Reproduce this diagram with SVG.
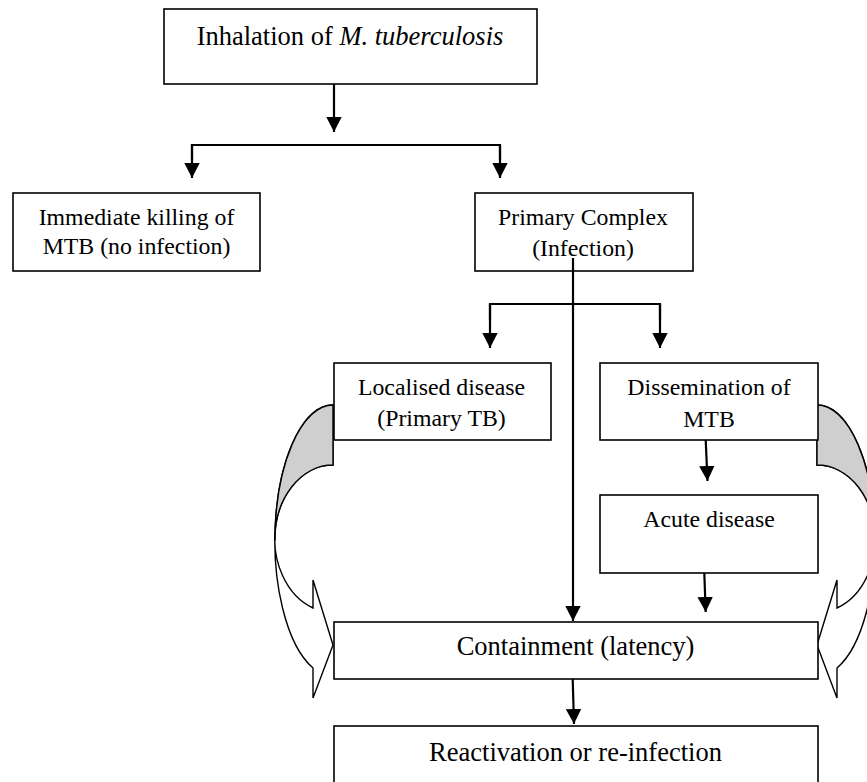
<svg xmlns="http://www.w3.org/2000/svg" width="867" height="782" viewBox="0 0 867 782">
<style>
.box{fill:#fff;stroke:#000;stroke-width:1.6}
.t{font-family:"Liberation Serif","Times New Roman",serif;font-size:23.8px;fill:#000;text-anchor:middle}
.tl{font-size:26.5px}
.c{fill:none;stroke:#000;stroke-width:2.2}
.ca{fill:none;stroke:#000;stroke-width:2.2;marker-end:url(#ah)}
.cv{fill:#fff;stroke:#000;stroke-width:1.4;stroke-linejoin:miter}
.sh{fill:#cfcfcf;stroke:#000;stroke-width:1.4}
</style>
<defs>
<marker id="ah" markerUnits="userSpaceOnUse" markerWidth="16" markerHeight="16" viewBox="0 0 16 16" refX="15" refY="8" orient="auto">
<path d="M0,0.3 L15,8 L0,15.7 Z" fill="#000"/>
</marker>
</defs>
<rect width="867" height="782" fill="#fff"/>

<g id="curved-left">
<path class="cv" d="M333,405 A58 135.6 0 0 0 313,668 L313,698 L333,645 L313,580 L313,608 A58 73.7 0 0 1 333,465 Z"/>
<path class="sh" d="M333,405 A58 135.6 0 0 0 275,540.6 A58 73.7 0 0 1 333,465 Z"/>
</g>
<g id="curved-right">
<path class="cv" d="M817,405 A58 135.6 0 0 1 837,668 L837,698 L817,645 L837,580 L837,608 A58 73.7 0 0 0 817,465 Z"/>
<path class="sh" d="M817,405 A58 135.6 0 0 1 875,540.6 A58 73.7 0 0 0 817,465 Z"/>
</g>

<g id="n-inhalation">
<rect class="box" x="164" y="9" width="373" height="75"/>
<text class="t tl" x="350" y="45">Inhalation of <tspan font-style="italic">M. tuberculosis</tspan></text>
</g>
<g id="n-killing">
<rect class="box" x="13" y="193" width="247" height="78"/>
<text class="t" x="136.5" y="225">Immediate killing of</text>
<text class="t" x="136.5" y="254">MTB (no infection)</text>
</g>
<g id="n-primary">
<rect class="box" x="475" y="193" width="218" height="78"/>
<text class="t" x="583" y="225">Primary Complex</text>
<text class="t" x="583" y="256">(Infection)</text>
</g>
<g id="n-localised">
<rect class="box" x="334" y="363" width="217" height="77"/>
<text class="t" x="441.5" y="395">Localised disease</text>
<text class="t" x="441.5" y="426">(Primary TB)</text>
</g>
<g id="n-dissemination">
<rect class="box" x="600" y="363" width="218" height="77"/>
<text class="t" x="709" y="395">Dissemination of</text>
<text class="t" x="709" y="427">MTB</text>
</g>
<g id="n-acute">
<rect class="box" x="600" y="495" width="218" height="78"/>
<text class="t" x="709" y="527">Acute disease</text>
</g>
<g id="n-containment">
<rect class="box" x="334" y="622" width="484" height="57"/>
<text class="t tl" x="575.5" y="655">Containment (latency)</text>
</g>
<g id="n-reactivation">
<rect class="box" x="334" y="726" width="484" height="70"/>
<text class="t tl" x="575.5" y="761">Reactivation or re-infection</text>
</g>

<g id="connectors">
<line class="ca" x1="334" y1="84" x2="334" y2="132"/>
<polyline class="c" points="192,160 192,145 500,145 500,160"/>
<line class="ca" x1="192" y1="145" x2="192" y2="178"/>
<line class="ca" x1="500" y1="145" x2="500" y2="178"/>
<line class="ca" x1="573" y1="258" x2="573" y2="621"/>
<polyline class="c" points="490,320 490,304 660,304 660,320"/>
<line class="ca" x1="490" y1="304" x2="490" y2="348"/>
<line class="ca" x1="660" y1="304" x2="660" y2="348"/>
<line class="ca" x1="705.7" y1="440" x2="707.5" y2="481"/>
<line class="ca" x1="704.3" y1="573" x2="705.7" y2="612"/>
<line class="ca" x1="572.7" y1="679" x2="574" y2="724"/>
</g>
</svg>
